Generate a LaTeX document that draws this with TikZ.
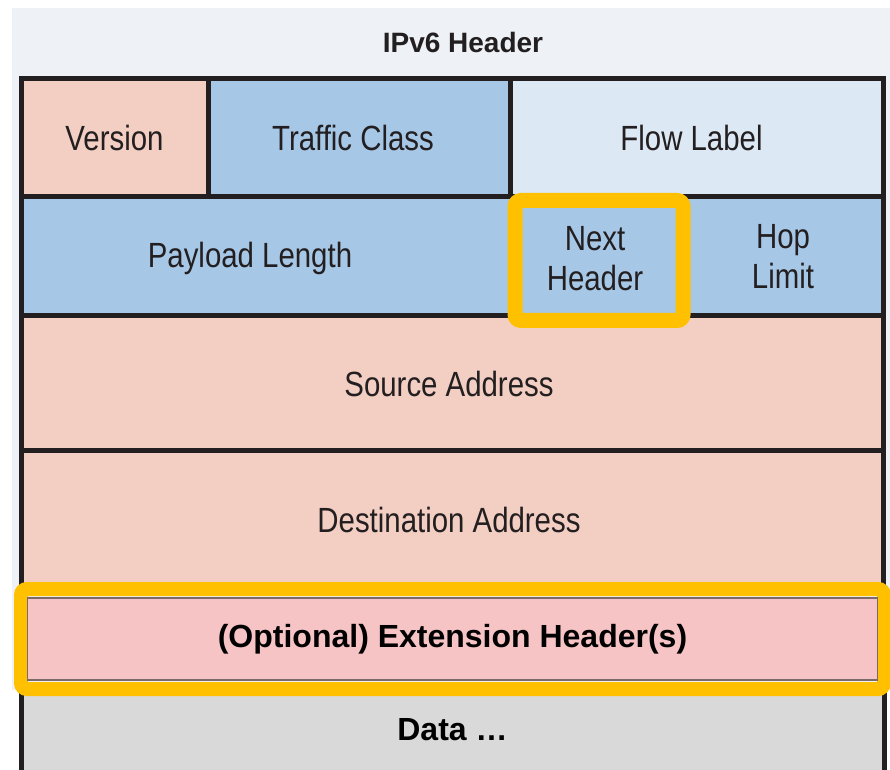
\documentclass[tikz,border=0pt]{standalone}
\usepackage{fontspec}
\setmainfont{Liberation Sans}
\newfontfamily\fieldfont[FakeStretch=0.84]{Liberation Sans}
\usetikzlibrary{positioning}
\definecolor{frame}{HTML}{231F20}
\definecolor{pagebg}{HTML}{EEF2F6}
\definecolor{salmon}{HTML}{F2CEC3}
\definecolor{midblue}{HTML}{A7C7E7}
\definecolor{paleblue}{HTML}{DDE8F5}
\definecolor{extpink}{HTML}{F6C4C5}
\definecolor{extline}{HTML}{7A6A6A}
\definecolor{datagray}{HTML}{D9D9D9}
\definecolor{hlyellow}{HTML}{FFC000}
\tikzset{field/.style = {draw = frame, line width = 2.5pt,
                         outer sep = 0pt, inner sep = 0pt,
                         anchor = north west, align = center, text = frame,
                         font = \fieldfont\fontsize{17.5}{20}\selectfont},
         fieldtext/.style = {text = frame, align = center,
                             font = \fieldfont\fontsize{17.5}{20}\selectfont},
         highlight/.style = {draw = hlyellow, line width = 7.5pt,
                             rounded corners = 3pt},
         boldtext/.style = {font = \bfseries\fontsize{16}{19}\selectfont}}

\begin{document}
\begin{tikzpicture}[x = 0.5pt, y = -0.5pt]
        \useasboundingbox (0,0) rectangle (890,770);
        \fill[pagebg] (12,8) rectangle (890,690);

        \node[text = frame, font = \bfseries\fontsize{14}{16}\selectfont]
             (title) at (463,42) {IPv6 Header};

        % fixed header fields
        \node[field, fill = salmon, minimum width = 93.5pt, minimum height = 59pt]
             (version) at (21,79) {Version};
        \node[field, fill = midblue, minimum width = 151pt, minimum height = 59pt]
             (traffic) [right = 0pt of version] {};
        \node[field, fill = paleblue, minimum width = 186.5pt, minimum height = 59pt]
             (flow) [right = 0pt of traffic] {};
        \node[field, fill = midblue, minimum width = 247pt, minimum height = 59.5pt]
             (payload) [below = 0pt of version.south west, anchor = north west] {};
        \node[field, fill = midblue, minimum width = 100pt, minimum height = 59.5pt]
             (hop) [below = 0pt of flow.south east, anchor = north east] {Hop\\Limit};
        \node[field, fill = salmon, minimum width = 431pt, minimum height = 67.5pt]
             (source) [below = 0pt of payload.south west, anchor = north west] {};
        \node[field, fill = salmon, minimum width = 431pt, minimum height = 69pt]
             (dest) [below = 0pt of source.south west, anchor = north west] {};

        % labels sit a little left of centre
        \node[fieldtext] (trafficlbl) at ([xshift = -3pt] traffic.center) {Traffic Class};
        \node[fieldtext] (flowlbl) at ([xshift = -2.5pt] flow.center) {Flow Label};
        \node[fieldtext] (payloadlbl) at ([xshift = -9pt, yshift = -1pt] payload.center) {Payload Length};
        \node[fieldtext] (sourcelbl) at ([xshift = -1.5pt] source.center) {Source Address};
        \node[fieldtext] (destlbl) at ([xshift = -1.5pt] dest.center) {Destination Address};

        % payload
        \node[fill = datagray, minimum width = 431.5pt, minimum height = 41pt,
              inner sep = 0pt, outer sep = 0pt, anchor = north west, boldtext]
             (data) at (21,689) {Data …};
        \draw[frame, line width = 2.5pt] (data.north west) -- (data.south west)
                                         (data.north east) -- (data.south east);

        % highlighted fields
        \node[highlight, line width = 7pt, minimum width = 431.5pt, minimum height = 50pt,
              inner sep = 0pt, outer sep = 0pt, anchor = north west]
             (extbox) at (21,589) {};
        \node[fill = extpink, draw = extline, line width = 0.6pt, minimum width = 425pt,
              minimum height = 41pt, inner sep = 0pt, boldtext]
             (ext) at (extbox.center) {(Optional) Extension Header(s)};
        \node[field, highlight, fill = midblue, minimum width = 84pt, minimum height = 60pt,
              anchor = center]
             (next) at (599,260.5) {};
        \node[fieldtext] (nextlbl) at ([xshift = -2pt, yshift = 1pt] next.center) {Next\\Header};
      \end{tikzpicture}
\end{document}
